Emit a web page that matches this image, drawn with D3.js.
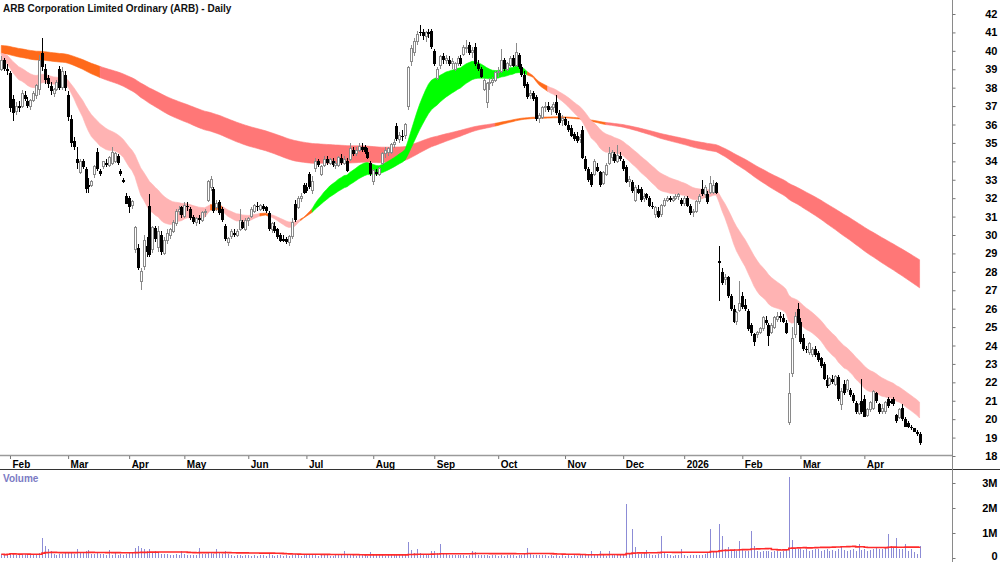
<!DOCTYPE html>
<html><head><meta charset="utf-8">
<script src="https://cdn.jsdelivr.net/npm/d3@7"></script>
<style>
html,body{margin:0;padding:0;background:#fff;}
svg{display:block;font-family:"Liberation Sans",Arial,sans-serif;}
</style></head><body>
<svg id="c" width="1000" height="562"></svg>
<script>
const title = "ARB Corporation Limited Ordinary (ARB) - Daily";
const firstDate = "2025-01-29";
const holidays = ["2025-04-18","2025-04-21","2025-04-25","2025-06-09","2025-12-25","2025-12-26","2026-01-01","2026-01-26","2026-04-03","2026-04-06"];
const monthLabels = ["Feb","Mar","Apr","May","Jun","Jul","Aug","Sep","Oct","Nov","Dec","2026","Feb","Mar","Apr"];
const priceTicks = [18,19,20,21,22,23,24,25,26,27,28,29,30,31,32,33,34,35,36,37,38,39,40,41,42];
const volumeTicks = [0,1,2,3];
const volumeTickLabels = ["0","1M","2M","3M"];
const shortPeriods = [18,21,24,27,30,33];
const longPeriods = [150,160,170,180,190,200];
const shortSeeds = [39.4,39.5,39.6,39.7,39.8,39.9];
const longSeeds = [39.85,40.03,39.95,40.18,40.1,40.3];
const volumeAvgWindow = 50;

// [open, high, low, close]
const ohlc = [
[39.0,39.7,38.9,39.5],[39.5,39.6,38.9,39.0],[39.0,39.3,38.7,38.9],
[38.8,38.9,36.7,36.9],[37.4,37.6,36.2,36.6],[36.7,37.2,36.5,37.0],[37.0,37.3,36.7,36.9],[37.0,37.9,36.9,37.7],
[37.6,37.8,37.3,37.4],[37.3,37.5,36.9,37.0],[37.0,37.4,36.8,37.3],[37.3,37.8,37.2,37.7],[37.6,38.2,37.4,38.1],
[37.9,39.8,37.6,39.5],[39.9,40.7,38.9,39.1],[39.0,39.3,38.2,38.4],[38.5,38.7,38.0,38.2],[38.1,38.3,37.6,37.8],
[37.7,38.0,37.5,37.9],[37.9,38.4,37.8,38.3],[39.0,39.2,37.9,38.0],[38.0,39.1,37.9,38.9],[38.7,38.9,37.8,38.0],
[37.6,37.8,36.2,36.4],[36.3,36.5,34.8,35.0],[35.1,35.3,34.6,34.8],[34.1,34.8,33.6,33.9],[33.4,34.1,33.3,34.0],
[34.0,34.1,33.6,33.7],[33.6,33.7,32.3,32.5],[32.7,33.1,32.3,32.6],[32.7,33.0,32.6,32.9],[33.3,33.8,33.1,33.7],
[34.5,34.7,33.5,33.6],[33.5,33.6,33.2,33.3],[33.7,34.0,33.6,34.0],[33.9,34.1,33.7,33.8],[33.8,34.3,33.7,34.2],
[33.9,34.8,33.8,34.5],[34.0,34.5,33.9,34.4],[34.3,34.4,33.8,33.9],[33.5,33.6,33.2,33.3],[33.0,33.1,32.8,32.9],
[32.1,32.3,31.7,31.7],[32.0,32.1,31.2,31.5],[31.6,31.9,31.4,31.8],[29.2,30.5,29.0,30.4],[29.3,29.5,28.1,28.2],
[27.5,28.2,27.0,28.0],[28.3,30.0,28.1,29.7],[29.4,29.9,28.8,29.1],[31.6,32.2,28.8,28.9],[29.2,30.5,29.0,30.4],
[30.4,30.5,29.6,29.8],[29.3,30.5,29.1,30.2],[30.0,30.2,28.9,29.1],[29.0,29.9,28.9,29.7],[29.7,30.3,29.5,30.1],
[30.0,30.4,29.8,30.3],[30.2,30.8,30.1,30.7],[30.6,31.4,30.5,31.3],[31.3,31.6,31.1,31.4],[31.5,31.6,30.9,31.1],
[31.0,31.8,30.9,31.6],[31.6,31.8,31.3,31.5],[31.4,31.5,30.8,30.9],[31.0,31.1,30.6,30.7],[30.7,31.0,30.5,30.9],
[30.9,31.1,30.6,30.8],[30.8,31.3,30.7,31.2],[31.2,31.4,31.0,31.3],[31.9,33.0,31.8,32.9],[32.6,33.2,32.4,33.0],
[32.5,32.6,31.2,31.3],[31.5,31.9,31.3,31.7],[31.8,31.9,31.1,31.2],[31.4,31.5,30.7,30.8],[30.5,30.6,29.7,29.8],
[29.6,29.9,29.4,29.8],[29.9,30.3,29.8,30.2],[30.1,30.3,29.9,30.0],[30.0,30.3,29.9,30.2],[30.3,31.4,30.2,30.8],
[30.7,30.8,30.3,30.4],[30.3,30.9,30.2,30.8],[30.8,31.0,30.5,30.9],[31.0,31.5,30.9,31.4],[31.3,31.7,31.2,31.6],
[31.6,31.8,31.3,31.5],[31.4,31.7,31.3,31.6],[31.6,31.7,31.3,31.4],[31.5,31.6,31.2,31.3],[31.2,31.3,30.2,30.3],
[30.3,30.7,30.1,30.6],[30.5,30.7,30.1,30.2],[30.3,30.4,29.8,29.9],[30.0,30.1,29.6,29.7],[29.8,30.0,29.6,29.7],
[29.8,29.9,29.5,29.6],[29.6,30.0,29.4,29.9],[29.9,30.9,29.8,30.7],[31.7,31.9,30.7,30.8],[31.5,32.1,31.4,32.0],
[32.0,32.3,31.8,32.1],[32.7,32.8,32.2,32.3],[32.6,32.8,32.3,32.4],[33.3,33.4,32.5,32.6],[32.4,33.2,32.2,32.9],
[33.6,34.2,33.4,34.0],[34.0,34.1,33.7,33.8],[33.3,33.8,33.2,33.7],[33.8,34.3,33.7,34.1],[34.1,34.3,33.8,33.9],
[33.9,34.2,33.8,34.1],[34.0,34.2,33.7,33.8],[33.8,34.0,33.6,33.9],[33.8,34.3,33.7,34.2],[34.2,34.4,33.8,33.9],
[33.9,34.3,33.8,34.1],[34.0,34.2,33.4,33.5],[34.1,35.0,34.0,34.7],[34.6,34.8,34.3,34.4],[34.4,34.8,34.3,34.6],
[34.6,35.0,34.5,34.8],[34.8,35.0,34.5,34.6],[34.8,34.9,34.4,34.5],[34.5,34.7,34.1,34.2],[33.9,34.0,33.2,33.3],
[32.9,33.6,32.7,33.5],[33.4,33.6,33.2,33.3],[33.3,33.7,33.2,33.6],[33.9,34.5,33.8,34.4],[34.4,34.8,34.2,34.6],
[34.5,34.8,34.3,34.7],[34.5,35.0,34.4,34.9],[34.9,35.2,34.7,35.0],[35.9,36.1,35.1,35.2],[35.2,35.6,35.0,35.4],
[35.4,35.7,35.1,35.3],[35.4,36.1,35.2,36.0],[37.0,39.2,36.8,39.1],[39.4,40.3,39.2,40.1],[39.9,40.7,39.7,40.5],
[40.5,41.1,40.3,40.9],[41.0,41.4,40.8,41.0],[41.0,41.2,40.6,40.8],[40.8,41.1,40.5,41.0],[41.0,41.2,40.7,40.9],
[41.1,41.2,40.1,40.2],[40.0,40.1,39.2,39.3],[38.5,39.1,38.4,39.0],[39.2,39.8,39.0,39.7],[39.7,39.9,39.3,39.5],
[39.5,39.8,39.3,39.6],[39.5,39.7,39.2,39.3],[39.3,39.6,39.0,39.4],[39.0,39.4,38.9,39.3],[39.3,39.7,39.2,39.6],
[39.6,39.8,39.2,39.3],[39.8,40.3,39.7,40.2],[40.1,40.6,39.9,40.2],[40.3,40.5,39.8,39.9],[39.9,40.2,39.6,40.0],
[40.2,40.4,39.2,39.3],[39.3,39.5,38.9,39.0],[39.0,39.1,38.5,38.6],[37.9,38.5,37.8,38.4],[37.2,38.3,36.9,38.2],
[38.2,38.5,37.9,38.3],[38.3,38.6,38.1,38.4],[38.4,38.9,38.3,38.8],[38.8,39.1,38.6,38.9],[38.9,40.1,38.8,39.5],
[39.5,39.6,38.9,39.0],[39.0,39.4,38.9,39.3],[39.2,39.7,39.1,39.6],[39.6,39.8,39.1,39.2],[39.2,40.4,39.1,39.9],
[39.8,39.9,39.0,39.1],[39.1,39.3,38.6,38.7],[38.7,38.9,38.0,38.1],[38.2,38.3,37.4,37.5],[37.6,37.9,37.4,37.7],
[37.7,37.8,37.3,37.4],[37.5,37.6,36.2,36.3],[36.3,36.6,36.1,36.5],[36.4,37.0,36.3,36.9],[36.9,37.2,36.7,37.0],
[37.0,37.2,36.7,36.8],[36.8,37.0,36.5,36.9],[36.9,37.2,36.7,37.1],[37.2,37.6,36.5,36.6],[36.6,36.8,36.0,36.1],
[36.2,36.5,35.9,36.3],[36.3,36.4,35.9,36.0],[36.0,36.2,35.6,35.7],[35.8,36.0,35.3,35.4],[35.5,35.6,35.1,35.2],
[35.4,35.6,35.0,35.1],[35.2,35.5,35.0,35.3],[35.7,35.9,34.1,34.2],[34.1,34.3,33.5,33.6],[33.6,33.7,32.9,33.0],
[33.3,33.4,32.6,32.7],[33.3,34.1,33.2,34.0],[33.7,33.9,33.4,33.5],[33.4,33.5,32.6,32.7],[32.8,33.5,32.7,33.4],
[33.3,33.9,33.2,33.8],[33.9,34.8,33.8,34.4],[34.2,34.6,34.0,34.5],[34.4,34.5,33.9,34.0],[34.0,34.9,33.9,34.3],
[34.3,34.5,34.0,34.1],[34.0,34.1,33.5,33.6],[33.7,33.8,32.8,32.9],[32.9,33.2,32.6,33.0],[32.9,33.0,32.3,32.4],
[31.9,32.7,31.8,32.6],[32.5,32.7,32.2,32.3],[32.5,32.6,31.8,31.9],[32.0,32.3,31.8,32.1],[32.2,32.3,31.9,32.0],
[32.0,32.1,31.5,31.6],[31.6,31.8,31.4,31.5],[31.1,31.6,30.9,31.5],[31.3,31.5,30.9,31.0],[31.1,31.7,31.0,31.6],
[31.6,32.0,31.5,31.9],[31.9,32.1,31.8,32.0],[32.0,32.1,31.8,31.9],[31.9,32.1,31.8,32.0],[32.0,32.2,31.9,32.1],
[32.1,32.3,31.9,32.2],[31.9,32.0,31.6,31.7],[31.7,32.1,31.6,32.0],[32.0,32.1,31.5,31.6],[31.6,31.7,31.1,31.2],
[31.2,31.4,31.0,31.3],[31.3,31.9,31.2,31.8],[31.8,32.2,31.7,32.1],[32.5,33.0,32.1,32.2],[32.2,32.7,32.0,32.6],
[32.2,32.4,31.7,31.8],[32.3,33.2,32.2,32.8],[32.3,33.0,32.2,32.7],[32.8,32.9,32.2,32.3],[28.6,29.4,26.4,28.5],
[28.0,28.2,27.3,27.4],[27.6,27.9,27.3,27.7],[27.7,27.8,26.6,26.7],[26.7,26.8,25.9,26.0],[26.0,26.2,25.2,25.3],
[25.3,25.9,25.1,25.8],[25.9,27.5,25.8,26.3],[26.7,26.9,26.0,26.1],[26.2,26.5,25.9,26.0],[25.9,26.0,24.8,24.9],
[25.1,25.2,24.5,24.7],[24.6,24.7,24.0,24.2],[24.6,24.8,24.4,24.7],[24.7,25.0,24.6,24.9],[24.9,25.6,24.8,25.5],
[25.4,25.6,25.1,25.2],[25.1,25.2,24.0,24.5],[24.7,25.2,24.6,25.1],[25.0,25.6,24.9,25.5],[25.4,25.8,25.3,25.6],
[25.6,25.8,25.3,25.5],[25.5,25.7,25.2,25.3],[25.2,25.4,24.6,24.7],[19.8,22.5,19.7,21.4],[22.5,25.0,22.3,24.4],
[24.6,25.8,24.4,25.6],[26.0,26.3,25.1,25.2],[25.3,25.5,24.1,24.2],[24.4,24.6,23.7,23.8],[23.8,24.0,23.6,23.8],
[23.6,24.2,23.5,24.1],[23.5,23.9,23.4,23.8],[23.8,24.0,23.4,23.5],[23.6,23.7,23.1,23.2],[23.3,23.4,22.8,22.9],
[23.0,23.1,22.1,22.2],[22.1,22.4,21.7,21.8],[21.9,22.3,21.8,22.2],[22.2,22.4,21.9,22.0],[21.9,22.4,21.8,22.3],
[22.3,22.4,21.0,21.1],[20.8,21.7,20.5,21.5],[21.9,22.1,21.3,21.4],[21.6,22.2,21.5,22.1],[21.6,21.7,21.2,21.3],
[21.3,21.4,20.9,21.0],[20.9,21.0,20.3,20.4],[20.3,20.9,20.2,20.8],[21.0,22.2,20.3,20.4],[21.1,21.3,20.1,20.1],
[20.2,20.6,20.1,20.5],[20.5,21.0,20.4,20.9],[20.6,21.6,20.5,21.5],[21.4,21.5,20.9,21.0],[20.8,20.9,20.3,20.4],
[20.4,20.8,20.3,20.6],[20.4,21.0,20.3,20.9],[21.1,21.2,20.6,20.7],[21.0,21.1,20.8,20.9],[21.1,21.2,20.7,20.8],
[20.2,20.3,19.8,19.9],[20.1,20.6,20.0,20.5],[20.6,20.8,19.9,20.0],[20.0,20.1,19.6,19.6],[19.8,19.9,19.5,19.6],
[19.6,19.7,19.4,19.5],[19.5,19.5,19.3,19.3],[19.3,19.4,19.1,19.2],[19.2,19.3,18.6,18.7]
];

// volume, millions of shares
const volume = [
0.15,0.12,0.18,
0.22,0.16,0.14,0.12,0.18,0.15,0.12,0.14,0.11,0.13,
0.2,0.8,0.5,0.37,0.28,0.18,0.14,0.16,0.15,0.24,
0.2,0.22,0.18,0.35,0.2,0.26,0.3,0.33,0.18,0.15,
0.2,0.17,0.15,0.12,0.33,0.14,0.22,0.12,0.15,0.13,
0.18,0.2,0.22,0.41,0.47,0.41,0.37,0.3,0.37,0.25,
0.28,0.2,0.18,0.15,0.15,0.12,0.14,0.16,0.13,0.27,
0.15,0.12,0.14,0.13,0.12,0.41,0.15,0.18,0.2,0.22,
0.16,0.37,0.2,0.15,0.3,0.18,0.12,0.1,0.11,0.12,
0.1,0.13,0.11,0.09,0.12,0.1,0.14,0.11,0.09,0.15,
0.12,0.1,0.11,0.13,0.1,0.12,0.09,0.14,0.18,0.13,
0.1,0.12,0.11,0.14,0.12,0.15,0.1,0.11,0.13,0.12,
0.1,0.09,0.12,0.11,0.13,0.3,0.12,0.14,0.11,0.1,
0.12,0.11,0.13,0.1,0.24,0.15,0.12,0.11,0.13,0.1,
0.12,0.11,0.14,0.15,0.12,0.13,0.16,0.64,0.33,0.22,
0.35,0.2,0.18,0.15,0.16,0.3,0.3,0.2,0.57,0.18,
0.15,0.13,0.12,0.14,0.11,0.13,0.12,0.1,0.12,0.28,
0.24,0.13,0.11,0.12,0.14,0.1,0.12,0.11,0.09,0.12,
0.1,0.11,0.13,0.12,0.1,0.14,0.12,0.15,0.4,0.16,
0.12,0.14,0.11,0.13,0.12,0.1,0.11,0.09,0.12,0.1,
0.11,0.1,0.12,0.09,0.11,0.1,0.13,0.14,0.12,0.15,
0.27,0.12,0.11,0.27,0.13,0.1,0.3,0.12,0.11,0.13,
0.12,0.14,2.15,0.2,1.15,0.44,0.18,0.15,0.2,0.33,
0.16,0.12,0.14,0.18,0.87,0.2,0.15,0.12,0.1,0.11,
0.13,0.37,0.12,0.1,0.11,0.13,0.12,0.14,0.11,0.15,
0.2,1.17,0.25,0.3,1.37,0.87,0.37,0.44,0.3,0.37,
0.3,0.67,0.33,0.28,0.3,1.1,0.47,0.3,0.25,0.28,
0.3,0.27,0.25,0.3,0.28,0.26,0.3,0.35,3.24,0.73,
0.41,0.38,0.35,0.32,0.36,0.3,0.33,0.35,0.38,0.3,
0.32,0.35,0.3,0.33,0.28,0.36,0.44,0.32,0.3,0.34,
0.35,0.3,0.57,0.33,0.36,0.3,0.32,0.35,0.4,0.36,
0.38,0.42,0.95,0.49,0.4,0.81,0.36,0.38,0.57,0.3,
0.35,0.25,0.17,0.5
];

// ---- trading calendar ----
const fmt = d3.timeFormat("%Y-%m-%d");
const dates = [];
{
  let d = d3.timeParse("%Y-%m-%d")(firstDate);
  while (dates.length < ohlc.length) {
    const wd = d.getDay();
    if (wd !== 0 && wd !== 6 && !holidays.includes(fmt(d))) dates.push(new Date(d));
    d = d3.timeDay.offset(d, 1);
  }
}
const rows = ohlc.map((r, k) => ({k, date: dates[k], o: r[0], h: r[1], l: r[2], c: r[3], v: volume[k]}));

// ---- indicators ----
function emaGroup(periods, seeds) {
  const out = periods.map(() => []);
  periods.forEach((p, j) => {
    const a = 2 / (p + 1);
    let e = seeds[j];
    rows.forEach((r, k) => { e = e + a * (r.c - e); out[j][k] = e; });
  });
  return rows.map((r, k) => {
    const vals = out.map(s => s[k]);
    let up = true, down = true;
    for (let j = 0; j < vals.length - 1; j++) {
      if (!(vals[j] > vals[j + 1])) up = false;
      if (!(vals[j] < vals[j + 1])) down = false;
    }
    return {k, lo: d3.min(vals), hi: d3.max(vals), state: up ? "up" : (down ? "down" : "mixed")};
  });
}
const shortBand = emaGroup(shortPeriods, shortSeeds);
const longBand = emaGroup(longPeriods, longSeeds);
const volAvg = rows.map((r, k) => d3.mean(volume.slice(Math.max(0, k - volumeAvgWindow + 1), k + 1)));

// ---- layout ----
const svg = d3.select("#c");
const W = 1000, H = 562;
const axisX = 952;
const x = d3.scaleLinear().domain([-0.44, 327.16]).range([0, axisX]);
const y = d3.scaleLinear().domain([18, 42]).range([456, 14]);
const yv = d3.scaleLinear().domain([0, 3]).range([558, 483]);

svg.append("rect").attr("width", W).attr("height", H).attr("fill", "#fff");

svg.append("clipPath").attr("id", "pclip").append("rect").attr("x", 0).attr("y", 0).attr("width", axisX).attr("height", 455);

const colors = {
  short: {up: "#00ff00", down: "#ffb3b3", mixed: "#ff6a1a"},
  long: {up: "#2fae62", down: "#ff7777", mixed: "#ff6a1a"}
};
function drawBand(band, pal) {
  const area = d3.area().x(d => x(d.k)).y0(d => y(d.lo)).y1(d => y(d.hi));
  const runs = [];
  let s = 0;
  for (let k = 1; k <= band.length; k++) {
    if (k === band.length || band[k].state !== band[s].state) {
      runs.push({state: band[s].state, pts: band.slice(s, Math.min(k + 1, band.length))});
      s = k;
    }
  }
  const g = svg.append("g").attr("clip-path", "url(#pclip)");
  g.selectAll("path").data(runs).join("path")
    .attr("d", r => area(r.pts)).attr("fill", r => pal[r.state])
    .attr("stroke", r => pal[r.state]).attr("stroke-width", 0.6);
}
drawBand(longBand, colors.long);
drawBand(shortBand, colors.short);

// ---- candles ----
const cg = svg.append("g").attr("clip-path", "url(#pclip)").attr("shape-rendering", "crispEdges");
const cx = d => Math.round(x(d.k));
const isUp = d => d.c > d.o;
cg.selectAll("line.w").data(rows).join("line").attr("class", "w")
  .attr("x1", d => cx(d) + 0.5).attr("x2", d => cx(d) + 0.5)
  .attr("y1", d => y(d.h)).attr("y2", d => y(d.l))
  .attr("stroke", d => isUp(d) ? "#8a8a8a" : "#000").attr("stroke-width", 1);
cg.selectAll("rect.b").data(rows).join("rect").attr("class", "b")
  .attr("x", d => isUp(d) ? cx(d) - 0.5 : cx(d) - 1)
  .attr("width", d => isUp(d) ? 2 : 3)
  .attr("y", d => y(Math.max(d.o, d.c)))
  .attr("height", d => Math.max(1, Math.abs(y(d.o) - y(d.c))))
  .attr("fill", d => isUp(d) ? "#fff" : "#000")
  .attr("stroke", d => isUp(d) ? "#8a8a8a" : "none").attr("stroke-width", 1);

// ---- panel lines ----
svg.append("line").attr("x1", 0).attr("x2", axisX).attr("y1", 455.5).attr("y2", 455.5).attr("stroke", "#9a9a9a").attr("stroke-width", 1.5);
svg.append("line").attr("x1", 0).attr("x2", W).attr("y1", 469.5).attr("y2", 469.5).attr("stroke", "#333").attr("stroke-width", 1);
svg.append("line").attr("x1", axisX + 0.5).attr("x2", axisX + 0.5).attr("y1", 0).attr("y2", H).attr("stroke", "#8a8a8a").attr("stroke-width", 1);

// ---- title ----
svg.append("text").attr("x", 3).attr("y", 12).text(title)
  .attr("font-size", "10px").attr("font-weight", "bold").attr("fill", "#111");

// ---- price axis ----
const pa = svg.append("g").attr("transform", `translate(${axisX + 0.5},0)`)
  .call(d3.axisRight(y).tickValues(priceTicks).tickSize(3).tickFormat(d3.format("d")));
pa.select(".domain").remove();
pa.selectAll(".tick line").attr("stroke", "#777");
pa.selectAll(".tick text").attr("x", 45).attr("text-anchor", "end")
  .attr("font-size", "11px").attr("font-weight", "bold").attr("font-family", "Liberation Sans, Arial, sans-serif").attr("fill", "#000");

// ---- month axis ----
const monthStarts = rows.filter((r, k) => k > 0 && r.date.getMonth() !== rows[k - 1].date.getMonth()).map(r => r.k);
const labelOf = new Map(monthStarts.map((k, j) => [k, monthLabels[j]]));
const ma = svg.append("g").attr("transform", "translate(0,456)")
  .call(d3.axisBottom(x).tickValues(monthStarts).tickSize(3).tickFormat(k => labelOf.get(k)));
ma.select(".domain").remove();
ma.selectAll(".tick line").attr("stroke", "#777");
ma.selectAll(".tick text").attr("x", 2).attr("y", 5).attr("text-anchor", "start")
  .attr("font-size", "10px").attr("font-weight", "bold").attr("font-family", "Liberation Sans, Arial, sans-serif").attr("fill", "#000");

// ---- volume ----
const vg = svg.append("g").attr("shape-rendering", "crispEdges");
vg.selectAll("line").data(rows).join("line")
  .attr("x1", d => cx(d) + 0.5).attr("x2", d => cx(d) + 0.5)
  .attr("y1", yv(0)).attr("y2", d => yv(d.v))
  .attr("stroke", "#8c8cd6").attr("stroke-width", 1);
svg.append("path").datum(volAvg)
  .attr("d", d3.line().x((v, k) => x(k)).y(v => yv(v)).curve(d3.curveStepAfter))
  .attr("fill", "none").attr("stroke", "#ff2a2a").attr("stroke-width", 1.6);

const va = svg.append("g").attr("transform", `translate(${axisX + 0.5},0)`)
  .call(d3.axisRight(yv).tickValues(volumeTicks).tickSize(3).tickFormat((d, j) => volumeTickLabels[j]));
va.select(".domain").remove();
va.selectAll(".tick line").attr("stroke", "#777");
va.selectAll(".tick text").attr("x", 45).attr("text-anchor", "end")
  .attr("dy", d => d === 0 ? "0.1em" : "0.32em")
  .attr("font-size", "11px").attr("font-weight", "bold").attr("font-family", "Liberation Sans, Arial, sans-serif").attr("fill", "#000");

svg.append("text").attr("x", 3).attr("y", 482).text("Volume")
  .attr("font-size", "10px").attr("font-weight", "bold").attr("fill", "#7b7bc4");
</script>
</body></html>
